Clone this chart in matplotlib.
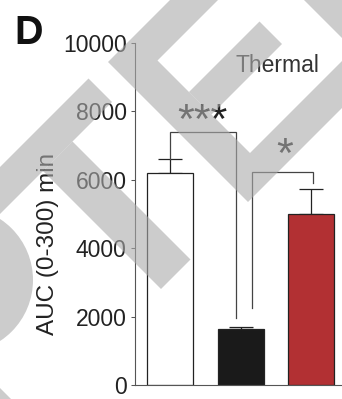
import matplotlib
matplotlib.use('Agg')
import matplotlib.pyplot as plt
from matplotlib.patches import Polygon, Circle
import numpy as np

plt.rcParams['font.family'] = ['Liberation Sans', 'DejaVu Sans']

# --- DATA ---
groups = ['Control', 'Model', 'Treated']
auc_mean = [6190, 1630, 5000]
auc_sem = [410, 65, 730]
bar_colors = ['#ffffff', '#1a1a1a', '#b23033']
yticks = [0, 2000, 4000, 6000, 8000, 10000]

# significance brackets: (x_left, x_right, y_top, y_left_end, y_right_end, label, label_x, label_y)
brackets = [
    (0.0, 0.93, 7400, 6600, 1960, '***', 0.45, 7680),
    (1.16, 2.03, 6230, 2250, 5900, '*', 1.63, 6700),
]

W, H = 342, 399
fig = plt.figure(figsize=(W / 100, H / 100), dpi=100)
fig.patch.set_facecolor('white')

# axes box in pixels: y axis at x=135, 0 at y=385, 10000 at y=43
ax = fig.add_axes([135 / W, (H - 385) / H, (W - 135) / W, (385 - 43) / H])
ax.set_facecolor('none')

x = np.arange(len(groups))
ax.errorbar(x, auc_mean, yerr=[np.zeros(len(x)), auc_sem], fmt='none',
            ecolor='#222222', elinewidth=0.9, capsize=8.5, capthick=0.9, zorder=1)
ax.bar(x, auc_mean, width=0.655, color=bar_colors, edgecolor='#222222',
       linewidth=0.9, zorder=2)

for xl, xr, yt, yl, yr, lab, lx, ly in brackets:
    ax.plot([xl, xl, xr, xr], [yl, yt, yt, yr], color='#444444', lw=0.9,
            solid_joinstyle='miter', zorder=3)
    ax.text(lx, ly, lab, ha='center', va='center', fontsize=31,
            color='#222222', zorder=3)

ax.text(0.93, 9150, 'Thermal', ha='left', va='baseline', fontsize=16.5,
        color='#333333')

ax.set_xlim(-0.505, 2.441)
ax.set_ylim(0, 10000)
ax.set_yticks(yticks)
ax.set_yticklabels([str(t) for t in yticks], fontsize=16.5, color='#222222')
ax.set_xticks([])
ax.tick_params(axis='y', direction='out', length=3, width=0.75,
               color='#555555', pad=3)
for side in ['top', 'right']:
    ax.spines[side].set_visible(False)
for side in ['left', 'bottom']:
    ax.spines[side].set_color('#555555')
    ax.spines[side].set_linewidth(0.8)

fig.text(48.5 / W, 1 - 244 / H, 'AUC (0-300) min', rotation=90,
         ha='center', va='center', fontsize=17.5, color='#222222')
fig.text(14 / W, 1 - 44 / H, 'D', fontsize=28.5, fontweight='bold',
         ha='left', va='baseline', color='#111111')

# light diagonal stripes laid over the whole panel
wm = fig.add_axes([0, 0, 1, 1], zorder=10)
wm.set_xlim(0, W)
wm.set_ylim(H, 0)
wm.axis('off')
wm.patch.set_alpha(0)
stripes = [
    [(220, -50), (108, 62), (248, 202), (500, -50), (453, -50),
     (250, 153), (157.5, 60.5), (268, -50)],
    [(259.5, 21.5), (282, 44), (211.5, 114.5), (189, 92)],
    [(88.5, 78.5), (112, 102), (-50, 264), (-50, 217)],
    [(72.5, 141.5), (190.5, 259.5), (161, 289), (43, 171)],
    [(280, -24), (420, 116), (471, 116), (331, -24)],
    [(0, 388), (12, 400), (0, 400)],
]
for pts in stripes:
    wm.add_patch(Polygon(pts, closed=True, facecolor='#aaaaaa', alpha=0.6,
                         lw=0))
wm.add_patch(Circle((-40, 280), 73, facecolor='#aaaaaa', alpha=0.6, lw=0))

fig.savefig('out.png', dpi=100)
